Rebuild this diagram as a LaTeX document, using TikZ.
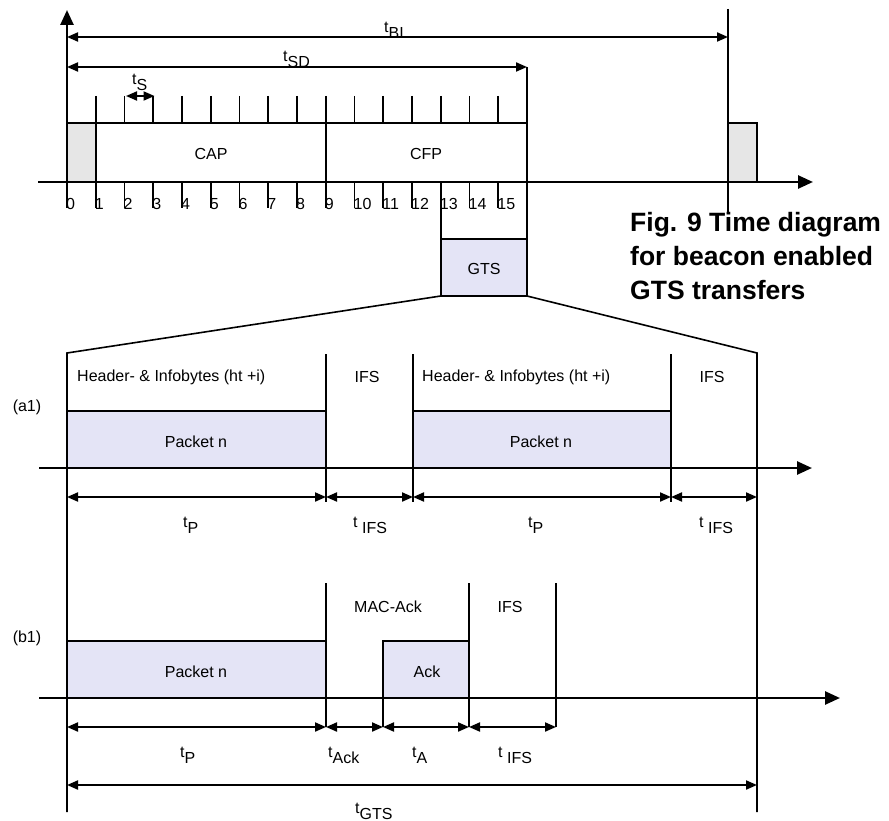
\documentclass[tikz,border=0pt]{standalone}
\usepackage{fontspec}
\setmainfont{Liberation Sans}
\usetikzlibrary{arrows.meta}
\definecolor{beacon}{RGB}{230,230,230}
\definecolor{lav}{RGB}{228,228,246}
\newcommand\tsub[1]{t\raisebox{-6pt}{#1}}
\newcommand\tsubsp[1]{t\ \raisebox{-6pt}{#1}}
\begin{document}
\begin{tikzpicture}[x=1pt,y=-1pt,
  lbl/.style={font=\fontsize{16}{19}\selectfont, inner sep=0pt},
  tlbl/.style={lbl, anchor=base west},
  digit/.style={lbl, anchor=base west},
  axis/.style={line width=2.6pt, -{Triangle[length=15pt,width=13pt]}},
  box/.style={draw, line width=2.2pt},
  vline/.style={line width=1.6pt},
  tickline/.style={line width=1.8pt},
  dim/.style={line width=2pt, {Triangle[length=11pt,width=9pt]}-{Triangle[length=11pt,width=9pt]}},
  ttl/.style={font=\fontsize{26.5}{33}\selectfont\bfseries, anchor=base west, inner sep=0pt}]
\useasboundingbox (0,0) rectangle (889,821);

% ---------- superframe ----------
\foreach \i in {0,...,16} \coordinate (s\i) at ({67+28.75*\i},182);
\draw[box, fill=beacon] (67,123) rectangle (96,182);
\draw[box] (96,123) rectangle (326,182);
\draw[box] (326,123) rectangle (527,182);
\node[lbl] (cap) at (211,154) {CAP};
\node[lbl] (cfp) at (426,154) {CFP};
\foreach \i in {1,...,15} \draw[tickline] ([yshift=86pt]s\i) -- ([yshift=59pt]s\i);
\foreach \i in {0,...,15} {
  \draw[tickline] (s\i) -- ([yshift=-26pt]s\i);
  \node[digit] (d\i) at ([xshift=-1pt,yshift=-28pt]s\i) {\i};
}
% GTS
\draw[tickline] (s13) -- ([yshift=-57pt]s13);
\draw[tickline] (527,67) -- (527,239);
\draw[box, fill=lav] (440.75,239) rectangle (527,296);
\node[lbl] (gts) at (484,269) {GTS};
% axes
\draw[axis] (67,208) -- (67,10);
\draw[axis] (38,182) -- (813,182);
% next beacon
\draw[box, fill=beacon] (728,123) rectangle (757,182);
\draw[vline] (728,9) -- (728,213);
% durations
\draw[dim] (67,37) -- (728,37);
\node[tlbl] (tbi) at (384,33) {\tsub{BI}};
\draw[dim] (67,67) -- (527,67);
\node[tlbl] (tsd) at (283,62) {\tsub{SD}};
\draw[dim] (126,96) -- (154.5,96);
\node[tlbl] (ts) at (132,85) {\tsub{S}};
% title
\node[ttl] (ti1) at (630,232) {Fig. 9 Time diagram};
\node[ttl] (ti2) at (630,265.5) {for beacon enabled};
\node[ttl] (ti3) at (630,299) {GTS transfers};

% zoom lines
\draw[vline] (440.75,296) -- (67,353) -- (67,812);
\draw[vline] (527,296) -- (757,353) -- (757,812);

% ---------- (a1) ----------
\node[lbl] (a1) at (27,407) {(a1)};
\draw[box, fill=lav] (67,411) rectangle (326,468);
\draw[box, fill=lav] (413,411) rectangle (671,468);
\node[lbl] (pa1) at (196,442) {Packet n};
\node[lbl] (pa2) at (541,442) {Packet n};
\foreach \x in {326,413,671} \draw[vline] (\x,354) -- (\x,502);
\node[lbl, anchor=west] (ha1) at (77,377) {Header- \& Infobytes (ht +i)};
\node[lbl, anchor=west] (ha2) at (422,377) {Header- \& Infobytes (ht +i)};
\node[lbl] (ifa1) at (367,377) {IFS};
\node[lbl] (ifa2) at (712,377) {IFS};
\draw[axis] (39,468) -- (812,468);
\draw[dim] (67,497) -- (326,497);
\draw[dim] (326,497) -- (413,497);
\draw[dim] (413,497) -- (671,497);
\draw[dim] (671,497) -- (757,497);
\node[tlbl] (tpa1) at (183,527) {\tsub{P}};
\node[tlbl] (tia1) at (353,527) {\tsubsp{IFS}};
\node[tlbl] (tpa2) at (528,527) {\tsub{P}};
\node[tlbl] (tia2) at (699,527) {\tsubsp{IFS}};

% ---------- (b1) ----------
\node[lbl] (b1) at (27,638) {(b1)};
\draw[box, fill=lav] (67,641) rectangle (326,698);
\draw[box, fill=lav] (383,641) rectangle (469,698);
\node[lbl] (pb1) at (196,672) {Packet n};
\node[lbl] (ack) at (427,672) {Ack};
\foreach \x in {326,469,556} \draw[vline] (\x,583) -- (\x,727);
\draw[vline] (383,698) -- (383,727);
\node[lbl] (mac) at (388,607) {MAC-Ack};
\node[lbl] (ifb) at (510,607) {IFS};
\draw[axis] (39,698) -- (840,698);
\draw[dim] (67,727) -- (326,727);
\draw[dim] (326,727) -- (383,727);
\draw[dim] (383,727) -- (469,727);
\draw[dim] (469,727) -- (556,727);
\node[tlbl] (tpb) at (180,757) {\tsub{P}};
\node[tlbl] (tack) at (328,757) {\tsub{Ack}};
\node[tlbl] (ta) at (412,757) {\tsub{A}};
\node[tlbl] (tib) at (498,757) {\tsubsp{IFS}};
\draw[dim] (67,785) -- (757,785);
\node[tlbl] (tgts) at (355,813) {\tsub{GTS}};
\end{tikzpicture}
\end{document}
